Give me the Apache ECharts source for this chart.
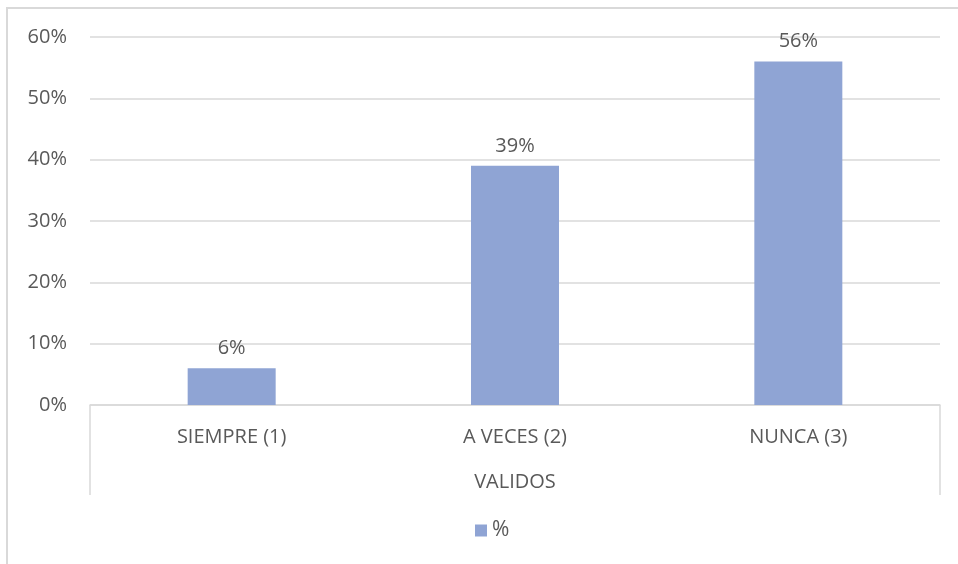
<!DOCTYPE html>
<html>
<head>
<meta charset="utf-8">
<script src="https://cdn.jsdelivr.net/npm/echarts@6/dist/echarts.min.js"></script>
<style>
html,body{margin:0;padding:0;background:#fff;}
#chart{width:958px;height:564px;}
</style>
</head>
<body>
<div id="chart"></div>
<script>
const categories = ['SIEMPRE (1)', 'A VECES (2)', 'NUNCA (3)'];
const groupLabel = 'VALIDOS';
const seriesName = '%';
const values = [6, 39, 56];

const chart = echarts.init(document.getElementById('chart'), null, {renderer: 'canvas'});
const textColor = '#595959';
const lineColor = '#d9d9d9';
const font = '"Open Sans", sans-serif';
const fs = 20;

chart.setOption({
  animation: false,
  backgroundColor: '#ffffff',
  textStyle: {fontFamily: font},
  graphic: [{
    type: 'polyline',
    silent: true,
    shape: {points: [[7, 600], [7, 8], [1000, 8]]},
    style: {stroke: lineColor, lineWidth: 2, fill: null}
  }],
  grid: {left: 90, right: 18, top: 37, bottom: 159},
  legend: {
    bottom: 18,
    left: 470,
    icon: 'rect',
    itemWidth: 12,
    itemHeight: 12,
    itemGap: 6,
    textStyle: {color: textColor, fontSize: 21, fontFamily: font},
    data: [seriesName]
  },
  xAxis: [{
    type: 'category',
    data: categories,
    axisLine: {show: true, lineStyle: {color: lineColor, width: 1.5}},
    axisTick: {show: false},
    axisLabel: {color: textColor, fontSize: fs, margin: 22, fontFamily: font},
    name: groupLabel,
    nameLocation: 'middle',
    nameGap: 67,
    nameTextStyle: {color: textColor, fontSize: fs, fontFamily: font}
  }, {
    type: 'value',
    position: 'bottom',
    min: 0,
    max: 1,
    interval: 1,
    axisLine: {show: false},
    axisTick: {show: true, length: 90, lineStyle: {color: lineColor, width: 1.5}},
    axisLabel: {show: false},
    splitLine: {show: false}
  }],
  yAxis: {
    type: 'value',
    min: 0,
    max: 60,
    interval: 10,
    axisLine: {show: false},
    axisTick: {show: false},
    axisLabel: {color: textColor, fontSize: fs, margin: 23, formatter: '{value}%', fontFamily: font},
    splitLine: {lineStyle: {color: lineColor, width: 1.5}}
  },
  series: [{
    name: seriesName,
    type: 'bar',
    xAxisIndex: 0,
    data: values,
    barWidth: 88,
    itemStyle: {color: '#8fa4d4'},
    label: {
      show: true,
      position: 'top',
      distance: 10,
      color: textColor,
      fontSize: fs,
      fontFamily: font,
      formatter: p => Math.round(p.value) + '%'
    }
  }]
});
</script>
</body>
</html>
